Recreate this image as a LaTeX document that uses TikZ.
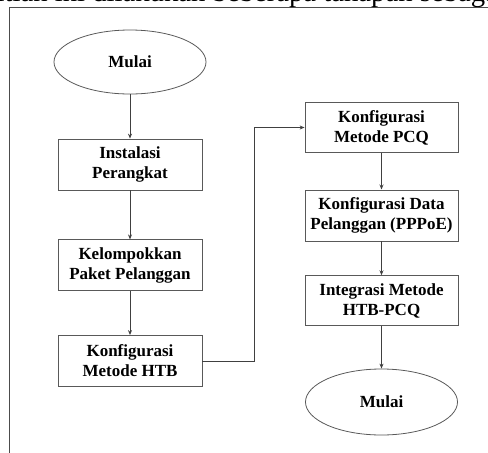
\documentclass[tikz,border=0pt]{standalone}
\usepackage{fontspec}
\setmainfont{Liberation Serif}
\usetikzlibrary{shapes.geometric,arrows.meta}
\tikzset{
  stepbox/.style={draw=black!65, line width=0.8pt, rectangle, inner sep=0pt, align=center,
    font=\fontsize{17}{20}\selectfont\bfseries},
  termnode/.style={draw=black!65, line width=0.8pt, ellipse, inner sep=0pt, align=center,
    font=\fontsize{17}{20}\selectfont\bfseries},
  flow/.style={draw=black!75, line width=0.8pt, -{Stealth[length=5pt,width=4pt]}},
  frameline/.style={draw=black!70, line width=0.9pt}
}
\begin{document}
\begin{tikzpicture}[x=1pt,y=-1pt]
\useasboundingbox (0,0) rectangle (488,453);
% clipped line of text above the figure
\node[anchor=base east, inner sep=0pt, font=\fontsize{28.7}{32}\selectfont] (prose) at (506,1)
  {Dalam penelitian ini dilakukan beberapa tahapan sebagai};
% frame
\coordinate (fbl) at (9.3,460);
\coordinate (ftl) at (9.3,7.3);
\coordinate (ftr) at (495,7.3);
\draw[frameline] (fbl) -- (ftl) -- (ftr);
% nodes
\node[termnode, minimum width=152pt, minimum height=64pt] (start) at (130,62) {Mulai};
\node[stepbox, minimum width=144pt, minimum height=51pt] (inst) at (130,164.5) {Instalasi\\Perangkat};
\node[stepbox, minimum width=144pt, minimum height=51pt] (kel) at (130,265.3) {Kelompokkan\\Paket Pelanggan};
\node[stepbox, minimum width=144pt, minimum height=51pt] (htb) at (130,361) {Konfigurasi\\Metode HTB};
\node[stepbox, minimum width=153pt, minimum height=50pt] (pcq) at (381.5,127.5) {Konfigurasi\\Metode PCQ};
\node[stepbox, minimum width=153pt, minimum height=51pt] (ppp) at (381.5,215.4) {Konfigurasi Data\\Pelanggan (PPPoE)};
\node[stepbox, minimum width=153pt, minimum height=50pt] (integ) at (381.5,300.7) {Integrasi Metode\\HTB-PCQ};
\node[termnode, minimum width=152pt, minimum height=66pt] (finish) at (381.5,402) {Mulai};
% connectors
\draw[flow] (start) -- (inst);
\draw[flow] (inst) -- (kel);
\draw[flow] (kel) -- (htb);
\draw[flow] (htb.east) -- ++(52,0) |- (pcq.west);
\draw[flow] (pcq) -- (ppp);
\draw[flow] (ppp) -- (integ);
\draw[flow] (integ) -- (finish);
\end{tikzpicture}
\end{document}
